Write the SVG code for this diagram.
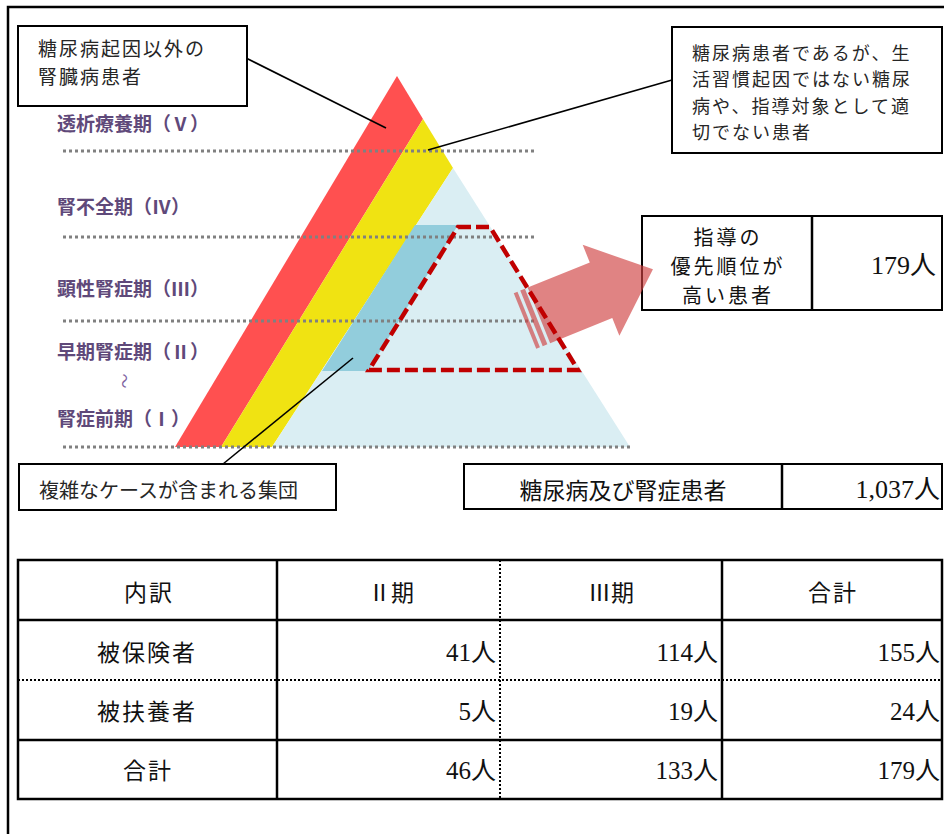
<svg xmlns="http://www.w3.org/2000/svg" width="944" height="834" viewBox="0 0 944 834">
<style>
.box{fill:#fff;stroke:#000;stroke-width:2}
.cell{fill:none;stroke:#000;stroke-width:2.5}
.dot{stroke:#808080;stroke-width:3;stroke-dasharray:3 3;fill:none}
.tdot{stroke:#000;stroke-width:2;stroke-dasharray:2 2;fill:none}
.lead{stroke:#000;stroke-width:1.6;fill:none}
.g{font-family:"Noto Sans CJK JP","Noto Sans",sans-serif;fill:#262626}
.stage{font-family:"Noto Sans CJK JP",sans-serif;font-weight:bold;font-size:19px;fill:#5F497A}
.t{font-family:"Noto Sans CJK JP",sans-serif;fill:#111;font-size:23px}
.num{font-family:"Liberation Serif","Noto Sans CJK JP",serif;fill:#111;font-size:25px;text-anchor:end}
.c{text-anchor:middle}
.arrow{fill:#D04040;fill-opacity:0.65}
</style>
<rect x="8" y="7" width="980" height="900" fill="#fff" stroke="#000" stroke-width="2.5"/>

<g id="pyramid">
<polygon points="397,76 423,119 221,447 175,447" fill="#FF5050"/>
<polygon points="423,119 453,168 272,447 221,447" fill="#F0E312"/>
<polygon points="453,168 630,447 272,447" fill="#DAEEF3"/>
<polygon points="415,225 458,225 368,371 322,371" fill="#92CDDC"/>
</g>

<g id="levels">
<line class="dot" x1="63" y1="151" x2="537" y2="151"/>
<line class="dot" x1="63" y1="237" x2="537" y2="237"/>
<line class="dot" x1="63" y1="321" x2="537" y2="321"/>
<line class="dot" x1="63" y1="447" x2="630" y2="447"/>
</g>

<g id="stage-labels">
<text class="stage" x="57" y="131">透析療養期（Ⅴ）</text>
<text class="stage" x="57" y="214">腎不全期（Ⅳ）</text>
<text class="stage" x="57" y="296">顕性腎症期（Ⅲ）</text>
<text class="stage" x="57" y="359">早期腎症期（Ⅱ）</text>
<text x="125" y="381" transform="rotate(90 125 381)" font-family="Noto Sans CJK JP,sans-serif" font-size="15" fill="#8064A2" text-anchor="middle" dominant-baseline="central">～</text>
<text class="stage" x="57" y="426">腎症前期（Ⅰ）</text>
</g>

<g id="priority-box">
<rect class="box" x="642" y="216" width="300" height="94" stroke-width="2.5"/>
<line x1="812" y1="216" x2="812" y2="310" stroke="#000" stroke-width="2.5"/>
<text class="g c" style="fill:#111;font-size:20px" letter-spacing="3" x="728" y="244.5"><tspan x="728" y="244.5">指導の</tspan><tspan x="728" y="273.7">優先順位が</tspan><tspan x="728" y="302.9">高い患者</tspan></text>
<text class="num" x="936" y="274" style="font-size:26px">179人</text>
</g>

<g id="arrow" transform="translate(525 321) rotate(-22)">
<rect class="arrow" x="0" y="-30" width="4" height="60"/>
<rect class="arrow" x="7" y="-30" width="5" height="60"/>
<polygon class="arrow" points="15,-30 82,-30 82,-49 138,0 82,49 82,30 15,30"/>
</g>

<g id="priority-group">
<polygon points="458,227 490,227 578,370 369,370" fill="none" stroke="#C00000" stroke-width="4.5" stroke-dasharray="13 5"/>
</g>

<g id="connectors">
<line class="lead" x1="246" y1="58" x2="386" y2="128"/>
<line class="lead" x1="672" y1="80" x2="428" y2="150"/>
<line class="lead" x1="223" y1="464" x2="353" y2="358"/>
</g>

<g id="callout-other">
<rect class="box" x="18" y="26" width="229" height="80"/>
<text class="g" font-size="19" letter-spacing="2" x="38" y="56"><tspan x="38" y="56">糖尿病起因以外の</tspan><tspan x="38" y="83.8">腎臓病患者</tspan></text>
</g>

<g id="callout-inappropriate">
<rect class="box" x="672" y="27" width="270" height="126"/>
<text class="g" font-size="18" letter-spacing="2" x="692" y="60"><tspan x="692" y="60">糖尿病患者であるが、生</tspan><tspan x="692" y="86.3">活習慣起因ではない糖尿</tspan><tspan x="692" y="112.6">病や、指導対象として適</tspan><tspan x="692" y="138.9">切でない患者</tspan></text>
</g>

<g id="callout-complex">
<rect class="box" x="19" y="464" width="317" height="46"/>
<text class="g" font-size="20" x="39" y="498">複雑なケースが含まれる集団</text>
</g>

<g id="total-box">
<rect class="box" x="464" y="464" width="478" height="45" stroke-width="2.5"/>
<line x1="782" y1="464" x2="782" y2="509" stroke="#000" stroke-width="2.5"/>
<text class="t c" x="623" y="499">糖尿病及び腎症患者</text>
<text class="num" x="940" y="498" style="font-size:26px">1,037人</text>
</g>

<g id="table">
<rect class="cell" x="18" y="560" width="924" height="239"/>
<line class="cell" x1="18" y1="620" x2="942" y2="620"/>
<line class="cell" x1="18" y1="740" x2="942" y2="740"/>
<line class="tdot" x1="18" y1="680" x2="942" y2="680"/>
<line class="cell" x1="277" y1="560" x2="277" y2="799"/>
<line class="tdot" x1="500" y1="560" x2="500" y2="799"/>
<line class="cell" x1="722" y1="560" x2="722" y2="799"/>
<text class="t c" x="149" y="601" letter-spacing="2">内訳</text>
<text class="t c" x="391" y="601">Ⅱ期</text>
<text class="t c" x="611" y="601">Ⅲ期</text>
<text class="t c" x="833" y="601" letter-spacing="2">合計</text>
<text class="t c" x="147" y="661" letter-spacing="2">被保険者</text>
<text class="t c" x="147" y="720" letter-spacing="2">被扶養者</text>
<text class="t c" x="148" y="779" letter-spacing="2">合計</text>
<text class="num" x="496" y="661">41人</text>
<text class="num" x="718" y="661">114人</text>
<text class="num" x="940" y="661">155人</text>
<text class="num" x="496" y="720">5人</text>
<text class="num" x="718" y="720">19人</text>
<text class="num" x="940" y="720">24人</text>
<text class="num" x="496" y="779">46人</text>
<text class="num" x="718" y="779">133人</text>
<text class="num" x="940" y="779">179人</text>
</g>
</svg>
